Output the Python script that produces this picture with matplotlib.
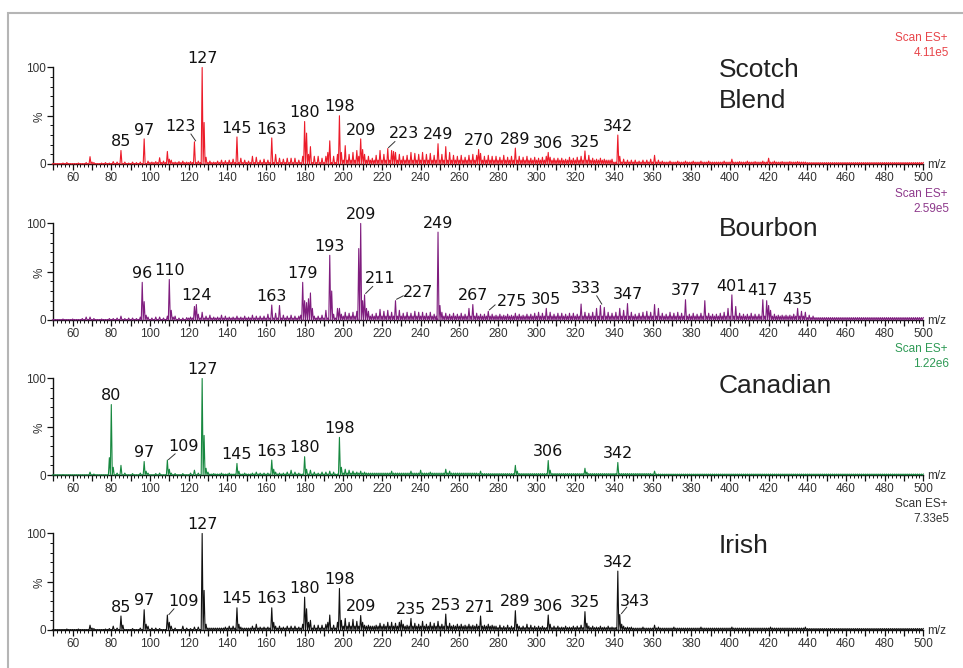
import matplotlib as mpl

mpl.use('Agg')

import matplotlib.pyplot as plt
from matplotlib.patches import Rectangle
from matplotlib.ticker import FixedLocator, MultipleLocator

MZ_MIN, MZ_MAX = 50, 500

names = ['Scotch\nBlend', 'Bourbon', 'Canadian', 'Irish']
scan_totals = ['4.11e5', '2.59e5', '1.22e6', '7.33e5']

# relative intensity (%) of each nominal m/z
scotch_peaks = {
    55: 1, 57: 1.5, 63: 1, 67: 1.5, 69: 7.6, 70: 2, 71: 1.5, 75: 1, 77: 1.5,
    79: 1, 81: 2.5, 83: 2, 85: 14, 87: 2, 89: 1, 91: 2, 93: 1.5, 95: 2,
    97: 26, 99: 3, 101: 2, 103: 2.5, 105: 6.5, 107: 3, 109: 13, 110: 5,
    111: 4, 113: 2, 115: 2.5, 117: 3, 119: 2, 121: 2.5, 123: 23, 125: 3,
    127: 100, 128: 43, 129: 7, 131: 3, 133: 2, 135: 3, 137: 4, 139: 3.5,
    141: 4, 143: 5, 145: 28, 147: 6, 149: 4, 151: 3, 153: 8, 155: 7,
    157: 4, 159: 5, 161: 4, 163: 27, 165: 10, 167: 6, 169: 5, 171: 6,
    173: 6, 175: 6, 177: 4, 179: 8, 180: 44, 181: 32, 182: 10, 183: 18,
    185: 8, 187: 8, 189: 6, 191: 8, 192: 12, 193: 24, 195: 8, 197: 10,
    198: 50, 199: 12, 201: 19, 203: 10, 205: 12, 207: 14, 208: 8, 209: 26,
    210: 15, 211: 10, 213: 8, 215: 6, 217: 9, 219: 14, 221: 10, 223: 16,
    225: 14, 226: 13, 227: 12, 229: 10, 231: 8, 233: 9, 235: 12, 237: 11,
    239: 10, 241: 12, 243: 10, 245: 11, 247: 9, 249: 21, 251: 10, 253: 18,
    255: 12, 257: 9, 259: 8, 261: 9, 263: 7, 265: 9, 267: 10, 269: 9,
    270: 15, 271: 11, 273: 8, 275: 9, 277: 8, 279: 8, 281: 7, 283: 9,
    285: 7, 287: 8, 289: 16.5, 291: 8, 293: 7, 295: 8, 297: 6, 299: 7,
    301: 6, 303: 7, 305: 8, 306: 12, 307: 7, 309: 6, 311: 6, 313: 6,
    315: 5, 317: 7, 319: 6, 321: 7, 323: 8, 325: 13.5, 327: 9, 329: 6,
    331: 5, 333: 6, 335: 5, 337: 4, 339: 5, 342: 30, 343: 8, 345: 5,
    347: 4, 349: 4, 351: 4, 353: 3, 355: 4, 357: 4, 359: 5, 361: 9,
    363: 4, 365: 3, 369: 3, 373: 3, 377: 3, 381: 3, 385: 3, 389: 3,
    393: 2, 397: 3, 401: 5, 405: 2.5, 409: 3, 413: 2.5, 417: 3, 420: 6,
    423: 3, 427: 2.5, 431: 2.5, 435: 2.5, 439: 2,
}
bourbon_peaks = {
    55: 1, 60: 1, 65: 1.5, 67: 3, 69: 3, 71: 1.5, 75: 1, 79: 1.5, 81: 1.5,
    83: 2, 85: 4, 87: 1.5, 89: 2, 91: 2, 93: 1.5, 95: 3, 96: 39, 97: 19,
    98: 5, 99: 3, 101: 2, 103: 3, 105: 3, 107: 2, 109: 4, 110: 42, 111: 10,
    112: 3, 113: 4, 115: 2, 117: 2, 119: 2.5, 121: 3, 123: 14, 124: 16,
    125: 6, 127: 8, 129: 4, 131: 5, 133: 3, 135: 3, 137: 5, 139: 4, 141: 3,
    143: 3, 145: 4, 147: 3, 149: 4, 151: 3, 153: 5, 155: 4, 157: 4,
    159: 4, 161: 6, 163: 15.5, 165: 7, 167: 15, 169: 5, 171: 4, 173: 5,
    175: 4, 177: 4, 178: 5, 179: 39, 180: 20, 181: 18, 182: 22, 183: 28,
    184: 12, 185: 4, 187: 4, 189: 5, 191: 10, 193: 67, 194: 30, 195: 6,
    197: 12, 198: 12, 199: 6, 201: 8, 203: 7, 205: 8, 207: 9, 208: 74,
    209: 100, 210: 20, 211: 26, 212: 12, 213: 9, 215: 6, 217: 7, 219: 11,
    221: 9, 223: 10, 225: 8, 227: 20, 229: 10, 231: 7, 233: 8, 235: 7,
    237: 9, 239: 8, 241: 8, 243: 7, 245: 8, 247: 6, 249: 91, 250: 15,
    251: 8, 253: 7, 255: 6, 257: 7, 259: 6, 261: 7, 263: 6, 265: 12,
    267: 16, 269: 7, 271: 6, 273: 6, 275: 9, 277: 6, 279: 5, 281: 6,
    283: 5, 285: 6, 287: 5, 289: 7, 291: 6, 293: 5, 295: 6, 297: 6,
    299: 7, 301: 8, 303: 7, 305: 12, 307: 8, 309: 6, 311: 7, 313: 7,
    315: 6, 317: 7, 319: 7, 321: 6, 323: 16.5, 325: 8, 327: 7, 329: 8,
    331: 12, 333: 15, 335: 13, 337: 8, 339: 7, 341: 8, 343: 12, 345: 10,
    347: 17, 349: 8, 351: 6, 353: 7, 355: 8, 357: 9, 359: 8, 361: 16,
    363: 12, 365: 7, 367: 6, 369: 8, 371: 7, 373: 8, 375: 7, 377: 21,
    379: 6, 381: 7, 383: 6, 385: 7, 387: 20, 389: 7, 391: 6, 393: 6,
    395: 7, 397: 8, 399: 12, 401: 26, 403: 14, 405: 7, 407: 6, 409: 6,
    411: 7, 413: 6, 415: 6, 417: 21, 419: 20, 420: 15, 421: 10, 423: 6,
    425: 5, 427: 5, 429: 5, 431: 5, 433: 6, 435: 12, 437: 9, 439: 8,
    441: 5, 443: 4,
}
canadian_peaks = {
    55: 0.5, 69: 3, 71: 1, 79: 18, 80: 73, 81: 8, 83: 2, 85: 10, 87: 2,
    91: 1.5, 95: 2, 97: 14, 98: 4, 99: 2, 103: 1.5, 105: 2, 109: 15.5,
    110: 6, 111: 2, 113: 1.5, 117: 1.5, 121: 2, 123: 5, 125: 2, 127: 100,
    128: 41, 129: 7, 130: 3, 133: 1.5, 137: 2, 141: 2, 145: 12, 146: 4,
    149: 2, 153: 2, 155: 3, 157: 2, 159: 2, 161: 2, 163: 15.5, 164: 6,
    165: 3, 167: 2, 169: 2, 171: 3, 173: 5, 175: 3, 177: 2, 180: 19,
    181: 6, 183: 5, 185: 3, 187: 2, 189: 3, 191: 3, 193: 4, 195: 3,
    198: 39, 199: 8, 201: 6, 203: 5, 205: 4, 207: 3, 209: 4, 211: 3,
    225: 4, 235: 4, 240: 5, 245: 3, 253: 6, 255: 4, 271: 4, 289: 10,
    290: 4, 306: 15, 307: 5, 325: 7, 326: 3, 342: 13, 361: 4,
}
irish_peaks = {
    57: 1, 63: 1, 69: 5, 70: 2, 71: 1.5, 77: 1, 79: 1.5, 81: 4, 83: 2,
    85: 14.5, 86: 5, 91: 1.5, 95: 2, 97: 21, 98: 6, 99: 4, 101: 2, 103: 2,
    105: 1.5, 109: 15.5, 110: 8, 111: 4, 113: 2, 117: 4, 119: 2, 121: 1.5,
    123: 3, 125: 3, 127: 100, 128: 41, 129: 6, 131: 2, 135: 2, 137: 2,
    139: 3, 141: 4, 143: 4, 145: 23, 146: 6, 147: 3, 149: 2, 153: 4,
    155: 6, 157: 3, 159: 3, 161: 3, 163: 23, 164: 8, 165: 4, 167: 4,
    169: 3, 171: 4, 173: 4, 175: 4, 177: 3, 179: 6, 180: 34, 181: 22,
    182: 8, 183: 10, 185: 5, 187: 5, 189: 5, 191: 6, 192: 8, 193: 15.5,
    195: 5, 197: 8, 198: 43, 199: 10, 201: 12, 203: 8, 205: 11, 207: 9,
    209: 15, 210: 8, 211: 5, 213: 5, 215: 4, 217: 5, 219: 7, 221: 6,
    223: 8, 225: 8, 227: 7, 229: 8, 230: 10, 231: 6, 233: 5, 235: 12,
    237: 7, 239: 6, 241: 9, 243: 6, 245: 8, 247: 7, 249: 9, 251: 6,
    253: 16.5, 255: 7, 257: 5, 259: 6, 261: 6, 263: 5, 265: 6, 267: 5,
    269: 6, 271: 14.5, 273: 5, 275: 6, 277: 5, 279: 4, 281: 5, 283: 4,
    285: 5, 287: 4, 289: 20, 290: 6, 291: 4, 293: 4, 295: 6, 297: 5,
    299: 4, 301: 4, 303: 4, 306: 15.5, 307: 6, 309: 4, 311: 4, 313: 3,
    315: 4, 317: 3, 319: 4, 321: 4, 323: 5, 325: 19, 326: 7, 327: 4,
    329: 4, 331: 3, 333: 4, 335: 3, 337: 4, 339: 3, 342: 61, 343: 16,
    344: 6, 345: 4, 347: 3, 349: 3, 355: 3, 361: 5, 363: 3, 371: 3,
    385: 3, 401: 3, 421: 3, 439: 3,
}

# background level (%) starting at each m/z
scotch_background = [(50, 0.5), (100, 1.5), (200, 4), (340, 2), (440, 1.5)]
bourbon_background = [(50, 0.5), (120, 2), (200, 4), (440, 2.5)]
canadian_background = [(50, 0.3), (130, 1), (200, 2), (270, 1.5), (360, 1)]
irish_background = [(50, 0.5), (130, 2), (200, 4), (280, 2.5), (350, 2),
                    (440, 1.5)]

# annotated ions
scotch_labels = [85, 97, 123, 127, 145, 163, 180, 198, 209, 223, 249, 270,
                 289, 306, 325, 342]
bourbon_labels = [96, 110, 124, 163, 179, 193, 209, 211, 227, 249, 267, 275,
                  305, 333, 347, 377, 401, 417, 435]
canadian_labels = [80, 97, 109, 127, 145, 163, 180, 198, 306, 342]
irish_labels = [85, 97, 109, 127, 145, 163, 180, 198, 209, 235, 253, 271,
                289, 306, 325, 342, 343]

spectra = [
    (scotch_peaks, scotch_background, scotch_labels),
    (bourbon_peaks, bourbon_background, bourbon_labels),
    (canadian_peaks, canadian_background, canadian_labels),
    (irish_peaks, irish_background, irish_labels),
]

colors = ['#ec1c2a', '#7f1d7e', '#17883f', '#111111']
note_colors = ['#e8454a', '#8e3a8c', '#2e9a55', '#333333']

# labels moved off their peak, joined by a short leader:
# (text x, text y, leader start, leader end)
callouts = {
    (0, 123): (115.6, 33.7, (121.2, 31.0), (123.6, 24.0)),
    (0, 223): (231.2, 26.7, (226.7, 23.2), (223.4, 17.0)),
    (1, 211): (219.0, 38.2, (215.2, 34.7), (211.6, 27.5)),
    (1, 227): (238.9, 24.3, (231.0, 25.0), (227.6, 21.5)),
    (1, 275): (287.1, 14.6, (278.5, 15.6), (275.6, 10.5)),
    (1, 333): (325.6, 27.8, (331.1, 25.0), (333.7, 16.5)),
    (2, 109): (117.2, 25.0, (113.0, 21.9), (109.6, 16.0)),
    (3, 109): (117.2, 25.0, (112.4, 21.9), (109.8, 16.0)),
    (3, 343): (350.9, 25.0, (346.6, 23.6), (343.9, 17.0)),
}

# axes bottoms (figure fraction)
bottoms = [0.7545, 0.521, 0.2889, 0.0569]
name_y = [0.906, 0.875, 0.854, 0.80]

TICK_FONT = 'Liberation Sans'
LABEL_FONT = 'DejaVu Sans'


def profile(peaks, background):
    xs, ys = [], []
    for mz in range(MZ_MIN, MZ_MAX + 1):
        level = [lv for start, lv in background if mz >= start][-1]
        xs += [mz - 0.5, mz]
        ys += [0, peaks.get(mz, level)]
    return xs, ys


def style_axes(ax):
    ax.set_xlim(MZ_MIN, MZ_MAX)
    ax.set_ylim(0, 100)
    ax.patch.set_visible(False)
    for side in ('top', 'right'):
        ax.spines[side].set_visible(False)
    for side in ('left', 'bottom'):
        ax.spines[side].set_linewidth(1.0)
        ax.spines[side].set_color('#111111')

    ax.xaxis.set_major_locator(FixedLocator(range(MZ_MIN, MZ_MAX + 1, 10)))
    ax.set_xticklabels([str(v) if v % 20 == 0 and v > 50 else ''
                        for v in range(MZ_MIN, MZ_MAX + 1, 10)])
    ax.xaxis.set_minor_locator(MultipleLocator(2))
    ax.set_yticks([0, 50, 100])
    ax.set_yticklabels(['0', '%', '100'])
    ax.get_yticklabels()[1].set_rotation(90)
    ax.yaxis.set_minor_locator(MultipleLocator(10))

    ax.tick_params(which='major', length=4, width=0.9, color='#111111',
                   labelsize=8.5, labelcolor='#333333', pad=1.5)
    ax.tick_params(which='minor', length=2, width=0.7, color='#111111')
    for lab in ax.get_xticklabels() + ax.get_yticklabels():
        lab.set_family(TICK_FONT)


def main():
    fig = plt.figure(figsize=(9.63, 6.68), dpi=100)

    # grey frame round the page
    fig.add_artist(Rectangle((8 / 963, -0.1), 1.2, 0.9805 + 0.1,
                             transform=fig.transFigure, fill=False,
                             edgecolor='#b5b5b5', linewidth=1.5))

    for i, (peaks, background, labels) in enumerate(spectra):
        ax = fig.add_axes([0.05535, bottoms[i], 0.9034, 0.1445])
        style_axes(ax)

        xs, ys = profile(peaks, background)
        ax.plot(xs, ys, color=colors[i], lw=0.8, clip_on=False, zorder=3)

        for mz in labels:
            if (i, mz) in callouts:
                tx, ty, start, end = callouts[(i, mz)]
                ax.plot([start[0], end[0]], [start[1], end[1]],
                        color='#333333', lw=0.7, clip_on=False)
            else:
                tx, ty = mz, peaks[mz] + 4.5
            ax.text(tx, ty, str(mz), ha='center', va='baseline',
                    fontsize=11.5, family=LABEL_FONT, color='#111111',
                    clip_on=False)

        lines = names[i].split('\n')
        for k, line in enumerate(lines):
            ax.text(0.765, name_y[i] - k * 0.323, line, transform=ax.transAxes,
                    fontsize=19, family=TICK_FONT, color='#222222',
                    ha='left', va='baseline')

        ax.text(1.028, 1.27, 'Scan ES+', transform=ax.transAxes,
                ha='right', va='baseline', fontsize=8.5, family=TICK_FONT,
                color=note_colors[i])
        ax.text(1.03, 1.12, scan_totals[i], transform=ax.transAxes,
                ha='right', va='baseline', fontsize=8.5, family=TICK_FONT,
                color=note_colors[i])
        ax.text(1.005, -0.01, 'm/z', transform=ax.transAxes, ha='left',
                va='center', fontsize=8.5, family=TICK_FONT, color='#333333')

    fig.savefig('out.png', dpi=100, facecolor='white')


if __name__ == '__main__':
    main()
